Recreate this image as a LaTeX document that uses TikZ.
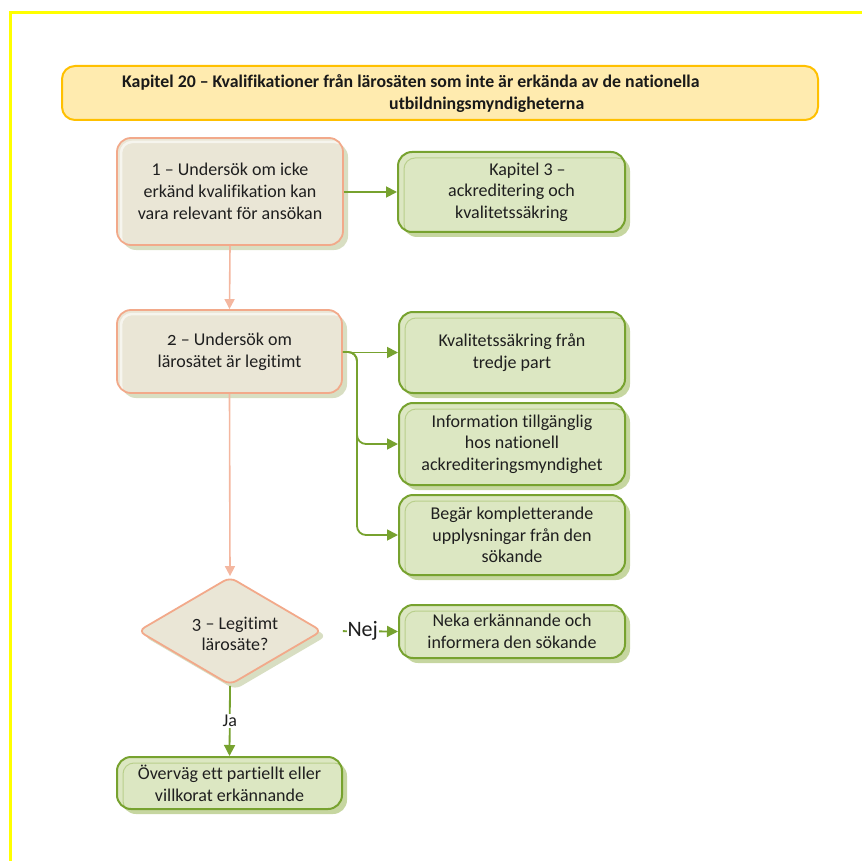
\documentclass[tikz,border=0pt]{standalone}
\usepackage{fontspec}
\setmainfont{Carlito}[Ligatures=NoCommon]
\newfontfamily\oldnumfont{Lato}[Numbers=OldStyle]
\usetikzlibrary{shapes.geometric,arrows.meta,shadows}

\definecolor{framey}{HTML}{FFFF00}
\definecolor{titlefill}{HTML}{FFEBAF}
\definecolor{titledraw}{HTML}{FFC000}
\definecolor{sandfill}{HTML}{EAE6D6}
\definecolor{sanddraw}{HTML}{F2A98A}
\definecolor{sandline}{HTML}{F4B7A0}
\definecolor{leaffill}{HTML}{DCE7C2}
\definecolor{leafdraw}{HTML}{77A22F}
\definecolor{leafinner}{HTML}{B9CF8C}
\definecolor{leafshadow}{HTML}{C6D6A0}
\definecolor{oliveshadow}{HTML}{D8DEC2}

\newcommand{\oldnum}[1]{{\oldnumfont #1}}

\tikzset{
  bodyfont/.style={font=\fontsize{18}{21.7}\selectfont},
  box/.style={rectangle, rounded corners=14pt, inner sep=0pt, align=center,
    bodyfont, text=black!88},
  sandbox/.style={box, fill=sandfill, draw=sanddraw, line width=1.8pt,
    drop shadow={shadow xshift=5pt, shadow yshift=-5pt, fill=oliveshadow, opacity=1},
    path picture={\draw[white, opacity=0.6, line width=2.5pt, rounded corners=11pt]
      ([xshift=4pt,yshift=-4pt]path picture bounding box.north west) rectangle
      ([xshift=3pt,yshift=-3pt]path picture bounding box.south east);}},
  leafbox/.style={box, fill=leaffill, draw=leafdraw, line width=2pt,
    drop shadow={shadow xshift=5pt, shadow yshift=-5pt, fill=leafshadow, opacity=1},
    path picture={\draw[leafinner, line width=1pt, rounded corners=11pt]
      ([xshift=6pt,yshift=-6pt]path picture bounding box.north west) rectangle
      ([xshift=3pt,yshift=-3pt]path picture bounding box.south east);}},
  titlebox/.style={rectangle, rounded corners=13pt, fill=titlefill, draw=titledraw,
    line width=2pt},
  sandarrow/.style={draw=sandline, line width=1.6pt,
    -{Triangle[length=10pt,width=10pt]}, color=sandline},
  leafarrow/.style={draw=leafdraw, line width=1.8pt,
    -{Triangle[length=11pt,width=11pt]}, color=leafdraw},
  lab/.style={fill=white, inner sep=1pt, text=black!88},
}

\begin{document}
\begin{tikzpicture}[x=1pt, y=-1pt]
  \useasboundingbox (0,0) rectangle (862,861);

  % page frame
  \draw[framey, line width=2.5pt] (10.5,861) -- (10.5,12.5) -- (862,12.5);

  % heading
  \node[titlebox, minimum width=756pt, minimum height=54pt] (title) at (440,93) {};
  \node[anchor=west, align=left, inner sep=0pt, text=black!90,
        font=\bfseries\fontsize{17.8}{22}\selectfont] (titletext) at (122,94)
    {Kapitel 20 – Kvalifikationer från lärosäten som inte är erkända av de nationella\\
     \hspace*{267pt}utbildningsmyndigheterna};

  % main column
  \node[sandbox, minimum width=226pt, minimum height=107pt] (b1) at (230,191.5)
    {1 – Undersök om icke\\erkänd kvalifikation kan\\vara relevant för ansökan};
  \node[sandbox, minimum width=225pt, minimum height=83pt] (b2) at (229.5,351.5)
    {\oldnum{2} – Undersök om\\lärosätet är legitimt};
  \node[diamond, rounded corners=7pt, fill=sandfill, draw=sanddraw, line width=1.8pt,
        minimum width=184pt, minimum height=108pt, inner sep=0pt,
        drop shadow={shadow xshift=5pt, shadow yshift=-5pt, fill=oliveshadow, opacity=1}]
        (dia) at (230,631) {};
  \node[align=center, bodyfont, text=black!88, inner sep=0pt] (diatext) at (235,634)
    {\oldnum{3} – Legitimt\\lärosäte?};
  \node[leafbox, minimum width=225pt, minimum height=52pt] (final) at (229.5,783)
    {Överväg ett partiellt eller\\villkorat erkännande};

  % right column
  \node[leafbox, minimum width=227pt, minimum height=80pt] (g1) at (511.5,192)
    {\hspace*{32pt}Kapitel 3 –\\ackreditering och\\kvalitetssäkring};
  \node[leafbox, minimum width=226pt, minimum height=81pt] (g2) at (512,352.5)
    {Kvalitetssäkring från\\tredje part};
  \node[leafbox, minimum width=226pt, minimum height=82pt] (g3) at (512,444)
    {Information tillgänglig\\hos nationell\\ackrediteringsmyndighet};
  \node[leafbox, minimum width=226pt, minimum height=80pt] (g4) at (512,535)
    {Begär kompletterande\\upplysningar från den\\sökande};
  \node[leafbox, minimum width=226pt, minimum height=53pt] (g5) at (512,631.5)
    {Neka erkännande och\\informera den sökande};

  % connectors
  \draw[sandarrow] (b1.south) -- (b2.north);
  \draw[sandarrow] (b2.south) -- (dia.north);
  \draw[leafarrow] (b1.east |- g1.west) -- (g1.west);
  \draw[leafarrow] (b2.east |- g2.west) -- (g2.west);
  \coordinate (split) at (357,352);
  \draw[leafarrow, rounded corners=9pt] (b2.east |- split) -- (split) |- (g3.west);
  \draw[leafarrow, rounded corners=9pt] (b2.east |- split) -- (split) |- (g4.west);
  \draw[leafarrow, shorten <=20pt] (dia.east) -- (g5.west)
    node[lab, pos=0.53, font=\fontsize{22}{24}\selectfont] (nej) {Nej};
  \draw[leafarrow] (dia.south) -- (final.north)
    node[lab, midway, bodyfont] (ja) {Ja};
\end{tikzpicture}
\end{document}
